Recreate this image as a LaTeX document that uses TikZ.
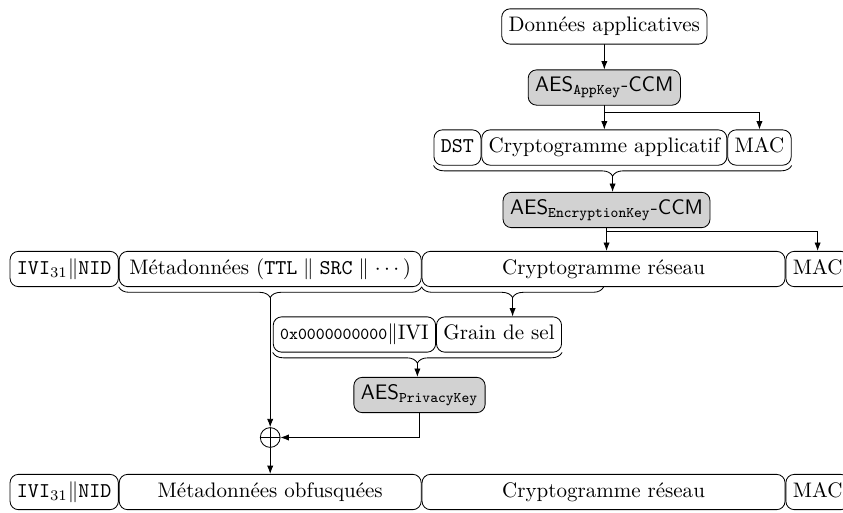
\documentclass[tikz,border=0pt]{standalone}
\usepackage{amsmath}
\usetikzlibrary{arrows.meta}
\usetikzlibrary{positioning}
\usetikzlibrary{decorations.pathreplacing}

\begin{document}
\begin{tikzpicture}[line cap=round,
    field/.style={draw, rounded corners=4pt, inner sep=3.3pt, text height=7.6pt, text depth=2.6pt},
    cipher/.style={draw, rounded corners=4pt, fill=gray!35, font=\sffamily, inner sep=3.3pt},
    flow/.style={-{Latex[length=1.4mm]}},
    underbrace/.style={decorate, decoration={brace, mirror, amplitude=5pt}},
    xorop/.style={draw, circle, inner sep=0pt, minimum size=9.4pt,
        path picture={\draw (path picture bounding box.north) -- (path picture bounding box.south)
                            (path picture bounding box.west) -- (path picture bounding box.east);}}]

    \useasboundingbox (0,0) rectangle (14.103,-8.566);

    % couche application
    \node[field] (data) at (10.11,-0.443) {Données applicatives};
    \node[cipher] (aesapp) at (10.11,-1.464) {AES$_{\mathtt{AppKey}}$-CCM};
    \node[field] (appcrypt) at (10.11,-2.468) {Cryptogramme applicatif};
    \node[field, left=0pt of appcrypt] (dst) {\texttt{DST}};
    \node[field, right=0pt of appcrypt] (appmac) {MAC};

    \draw[flow] (data) -- (aesapp);
    \draw[flow] (aesapp) -- (appcrypt);
    \draw[flow] (aesapp.south) -- ++(0,-0.117) -| (appmac.north);

    \draw[underbrace] (dst.south west) -- (appmac.south east) coordinate[midway, yshift=-5pt] (apptip);

    % couche réseau
    \node[cipher] (aesnet) at (10.147,-3.513) {AES$_{\mathtt{EncryptionKey}}$-CCM};
    \draw[flow] (apptip) -- (apptip |- aesnet.north);

    \node[field, minimum width=6.073cm] (netcrypt) at (10.097,-4.500) {Cryptogramme réseau};
    \node[field, minimum width=5.052cm, left=0pt of netcrypt] (meta) {Métadonnées $(\mathtt{TTL} \parallel \mathtt{SRC} \parallel \cdots)$};
    \node[field, left=0pt of meta] (ivi) {$\mathtt{IVI}_{31}\|\mathtt{NID}$};
    \node[field, right=0pt of netcrypt] (netmac) {MAC};

    \draw[flow] (aesnet.south) -- (aesnet.south |- netcrypt.north);
    \draw[flow] (aesnet.south) -- ++(0,-0.06) -| (netmac.north);

    % offuscation
    \draw[underbrace] (meta.south west) -- (meta.south east) coordinate[midway, yshift=-5pt] (metatip);
    \draw[underbrace] (netcrypt.south west) -- (netcrypt.south) coordinate[midway, yshift=-5pt] (nettip);

    \node[field] (salt) at (8.348,-5.596) {Grain de sel};
    \node[field, left=0pt of salt] (zeroivi) {{\footnotesize\texttt{0x0000000000}}$\|$IVI};
    \draw[flow] (nettip) -- (nettip |- salt.north);

    \draw[underbrace] (zeroivi.south west) -- (salt.south east) coordinate[midway, yshift=-5pt] (salttip);
    \node[cipher] (aespriv) at (7.018,-6.608) {AES$_{\mathtt{PrivacyKey}}$};
    \draw[flow] (salttip) -- (salttip |- aespriv.north);

    \coordinate (xorlevel) at (0,-7.319);
    \node[xorop] (xor) at (metatip |- xorlevel) {};
    \draw[flow] (metatip) -- (xor.north);
    \draw[flow] (aespriv.south) |- (xor.east);

    % trame obfusquée
    \node[field, minimum width=6.073cm] (outcrypt) at (10.097,-8.231) {Cryptogramme réseau};
    \node[field, minimum width=5.052cm, left=0pt of outcrypt] (obf) {Métadonnées obfusquées};
    \node[field, left=0pt of obf] (outivi) {$\mathtt{IVI}_{31}\|\mathtt{NID}$};
    \node[field, right=0pt of outcrypt] (outmac) {MAC};

    \draw[flow] (xor.south) -- (xor.south |- obf.north);

\end{tikzpicture}
\end{document}
